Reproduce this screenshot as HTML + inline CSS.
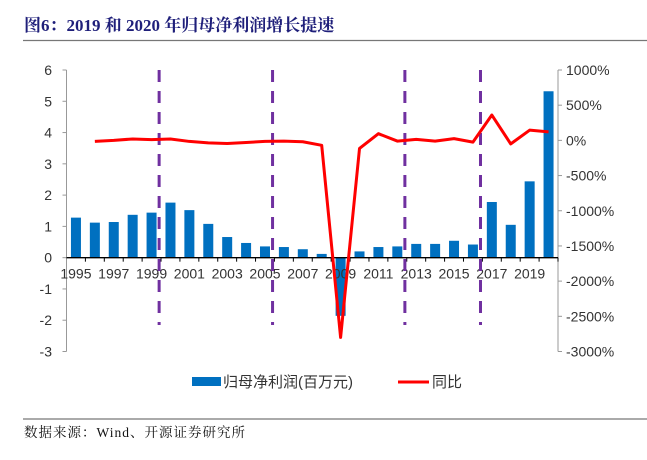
<!DOCTYPE html>
<html><head><meta charset="utf-8"><style>
body{margin:0;background:#fff;width:647px;height:455px;overflow:hidden}
svg text{font-family:"Liberation Sans","Noto Sans CJK SC",sans-serif}
</style></head><body>
<svg width="647" height="455">
<text x="24" y="31" font-size="17" font-weight="bold" fill="#1f1f7a" style="font-family:'Liberation Serif','Noto Serif CJK SC',serif">图6：2019 和 2020 年归母净利润增长提速</text>
<line x1="23" y1="40.5" x2="647" y2="40.5" stroke="#777" stroke-width="1.2"/>
<g id="plot"></g>
<g>
<rect x="192" y="377" width="29" height="9" fill="#0070c0"/>
<text x="223" y="387" font-size="15" fill="#333">归母净利润(百万元)</text>
<line x1="398" y1="382" x2="429" y2="382" stroke="#f00" stroke-width="3"/>
<text x="432" y="387" font-size="15" fill="#333">同比</text>
</g>
<line x1="23" y1="419" x2="647" y2="419" stroke="#555" stroke-width="1"/>
<text x="24" y="437" font-size="13.5" letter-spacing="1" fill="#111" style="font-family:'Liberation Serif','Noto Serif CJK SC',serif">数据来源：Wind、开源证券研究所</text>
</svg>
<script>
const years=[1995,1996,1997,1998,1999,2000,2001,2002,2003,2004,2005,2006,2007,2008,2009,2010,2011,2012,2013,2014,2015,2016,2017,2018,2019,2020];
const profit=[1.28,1.12,1.14,1.37,1.44,1.76,1.52,1.08,0.66,0.47,0.36,0.34,0.27,0.12,-1.86,0.2,0.34,0.36,0.44,0.44,0.54,0.42,1.78,1.05,2.44,5.32];
const yoy=[null,-14,0,20,10,20,-15,-35,-45,-30,-15,-10,-20,-70,-2800,-115,95,-10,15,-10,25,-25,360,-50,145,120];
const leftTicks=[6,5,4,3,2,1,0,-1,-2,-3];
const rightTicks=[1000,500,0,-500,-1000,-1500,-2000,-2500,-3000];
const markerYears=[1999,2005,2012,2016];
const NS="http://www.w3.org/2000/svg";
const g=document.getElementById('plot');
const X0=66.5,X1=558,Y6=70,Y3=351.5;
const cw=(X1-X0)/years.length;
const xc=i=>X0+cw*(i+0.5);
const yL=v=>Y6+(6-v)*(Y3-Y6)/9;
const yR=v=>Y6+(1000-v)*(Y3-Y6)/4000;
function mk(t,a){const e=document.createElementNS(NS,t);for(const k in a)e.setAttribute(k,a[k]);g.appendChild(e);return e;}
let e=mk('line',{x1:X0,y1:Y6,x2:X0,y2:Y3,stroke:'#999','stroke-width':1});


e=mk('line',{x1:X1,y1:Y6,x2:X1,y2:Y3,stroke:'#999','stroke-width':1});


leftTicks.forEach(v=>{
 const t=mk('line',{x1:X0-4,y1:yL(v),x2:X0,y2:yL(v),stroke:'#999'});
 
 
 const l=mk('text',{x:52,y:yL(v)+5,'font-size':14,'text-anchor':'end',fill:'#333'});l.textContent=v;
 
 
});
rightTicks.forEach(v=>{
 const t=mk('line',{x1:X1,y1:yR(v),x2:X1+4,y2:yR(v),stroke:'#999'});
 
 
 const l=mk('text',{x:566,y:yR(v)+5,'font-size':14,fill:'#333'});l.textContent=v+'%';
 
 
});
profit.forEach((v,i)=>{
 const b=mk('rect',{x:xc(i)-5,y:Math.min(yL(v),yL(0)),width:10,height:Math.abs(yL(v)-yL(0)),fill:'#0070c0'});
 
 
});
e=mk('line',{x1:X0,y1:yL(0),x2:X1,y2:yL(0),stroke:'#000','stroke-width':1.3});


years.forEach((yr,i)=>{
 const t=mk('line',{x1:X0+cw*(i+1),y1:yL(0),x2:X0+cw*(i+1),y2:yL(0)+4,stroke:'#000'});
 
 
 if(i%2===0){const l=mk('text',{x:xc(i),y:yL(0)+21,'font-size':14,'text-anchor':'middle',fill:'#333'});l.textContent=yr;
 
 }
});
markerYears.forEach(yr=>{
 const i=years.indexOf(yr);const x=xc(i)+cw*0.4;
 const d=mk('line',{x1:x,y1:Y6,x2:x,y2:325,stroke:'#7030a0','stroke-width':3,'stroke-dasharray':'12,9'});
 
 
});
const pts=[];yoy.forEach((v,i)=>{if(v!==null)pts.push(xc(i)+','+yR(v));});
e=mk('polyline',{points:pts.join(' '),fill:'none',stroke:'#f00','stroke-width':3,'stroke-linejoin':'round'});


</script>
</body></html>
